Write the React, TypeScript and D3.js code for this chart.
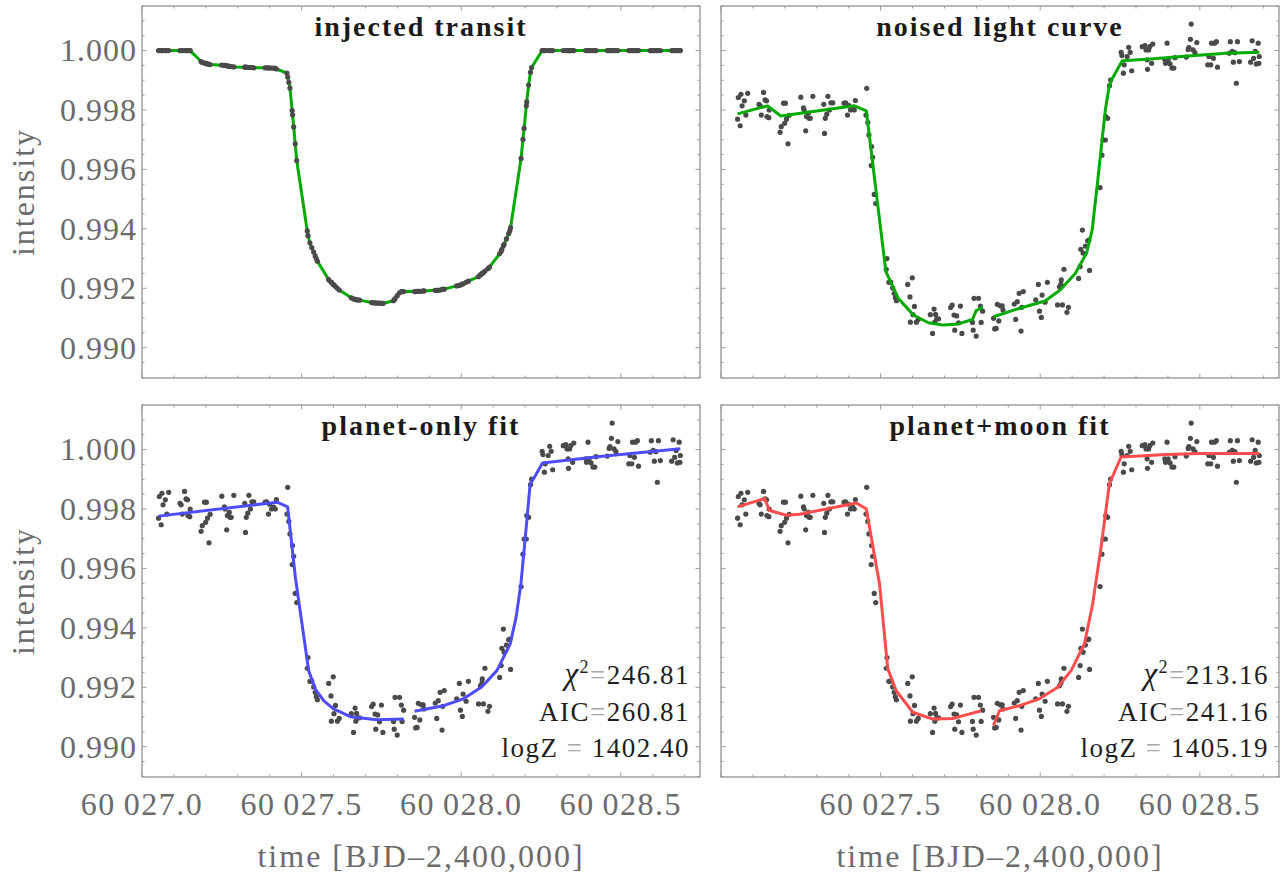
import * as d3 from "d3";

// observation times (BJD - 2,400,000) shared by all four panels
const time = [
  60027.0519, 60027.0542, 60027.0601, 60027.0625, 60027.066, 60027.0731, 60027.0778, 60027.0837,
  60027.1191, 60027.1226, 60027.1262, 60027.1333, 60027.138, 60027.1427, 60027.1439, 60027.1498, 60027.1509,
  60027.1851, 60027.1887, 60027.1958, 60027.1993, 60027.2017, 60027.2052, 60027.2099, 60027.2134,
  60027.25, 60027.2583, 60027.2606, 60027.2653, 60027.2677, 60027.2736, 60027.2759, 60027.2795, 60027.2877,
  60027.3219, 60027.3243, 60027.3267, 60027.3314, 60027.3349, 60027.3396, 60027.3443, 60027.3502,
  60027.3856, 60027.3903, 60027.3962, 60027.3998, 60027.4057, 60027.4127, 60027.4175, 60027.421,
  60027.454, 60027.4564, 60027.4599, 60027.4634, 60027.4705, 60027.4717, 60027.4752, 60027.48, 60027.4847,
  60027.5177, 60027.52, 60027.5259, 60027.5318, 60027.5377, 60027.5425, 60027.546, 60027.5495,
  60027.5849, 60027.592, 60027.5932, 60027.5991, 60027.6014, 60027.6061, 60027.612, 60027.6179,
  60027.6557, 60027.6627, 60027.6675, 60027.6698, 60027.6722, 60027.6757, 60027.6816,
  60027.7193, 60027.7241, 60027.73, 60027.7323, 60027.7382, 60027.7441, 60027.75, 60027.7547,
  60027.7877, 60027.7901, 60027.7925, 60027.7995, 60027.8066, 60027.8125, 60027.8149, 60027.8196,
  60027.8538, 60027.8573, 60027.862, 60027.8656, 60027.8703, 60027.875, 60027.8809, 60027.8833,
  60027.9186, 60027.9233, 60027.9281, 60027.934, 60027.9399, 60027.9422, 60027.9469,
  60027.9858, 60027.9941, 60027.9976, 60028.0035, 60028.0059, 60028.0153, 60028.0224,
  60028.0542, 60028.0601, 60028.0649, 60028.066, 60028.0696, 60028.0743, 60028.0837, 60028.0884,
  60028.1203, 60028.125, 60028.1274, 60028.1321, 60028.1344, 60028.1415, 60028.1486, 60028.1521, 60028.1545,
  60028.1875, 60028.1934, 60028.1969, 60028.204, 60028.2052, 60028.2111, 60028.217, 60028.2205,
  60028.2535, 60028.2559, 60028.2606, 60028.263, 60028.2724, 60028.2771, 60028.2818, 60028.2866,
  60028.3196, 60028.3278, 60028.3314, 60028.3349, 60028.3361, 60028.3396, 60028.3432, 60028.3491, 60028.3526,
  60028.3903, 60028.3927, 60028.3974, 60028.4009, 60028.4068, 60028.4127, 60028.4186, 60028.4222,
  60028.4575, 60028.4634, 60028.4658, 60028.4705, 60028.4729, 60028.4788, 60028.4847, 60028.4906,
  60028.5248, 60028.5283, 60028.5342, 60028.5366, 60028.5425, 60028.546, 60028.5519, 60028.5554,
  60028.592, 60028.5955, 60028.6014, 60028.605, 60028.6097, 60028.6144, 60028.6179, 60028.6238,
  60028.6592, 60028.6639, 60028.6686, 60028.6733, 60028.6769, 60028.6828, 60028.6851, 60028.6863,
];

// noise-free injected signal at each time
const injectedFlux = [
  1, 1, 1, 1, 1, 1, 1, 1,
  1, 1, 1, 1, 1, 1, 1, 1, 1,
  0.99963, 0.9996, 0.99958, 0.99957, 0.99956, 0.99955, 0.99954, 0.99953,
  0.99951, 0.9995, 0.9995, 0.99949, 0.99948, 0.99947, 0.99947, 0.99946, 0.99945,
  0.99944, 0.99944, 0.99944, 0.99943, 0.99943, 0.99943, 0.99943, 0.99942,
  0.99942, 0.99942, 0.99942, 0.99941, 0.99941, 0.99941, 0.9994, 0.99938,
  0.99924, 0.99911, 0.99893, 0.99874, 0.99798, 0.99784, 0.99743, 0.99686, 0.9963,
  0.99393, 0.99377, 0.99353, 0.99337, 0.99322, 0.99309, 0.993, 0.99291,
  0.99229, 0.99221, 0.9922, 0.99213, 0.99211, 0.99206, 0.992, 0.99194,
  0.99168, 0.99164, 0.99163, 0.99162, 0.99161, 0.99161, 0.9916,
  0.99152, 0.99151, 0.99151, 0.9915, 0.9915, 0.9915, 0.99149, 0.99149,
  0.99158, 0.99161, 0.99165, 0.99175, 0.99185, 0.99189, 0.99189, 0.99189,
  0.99189, 0.99189, 0.9919, 0.9919, 0.9919, 0.9919, 0.99191, 0.99191,
  0.99193, 0.99193, 0.99193, 0.99194, 0.99196, 0.99196, 0.99197,
  0.99208, 0.9921, 0.99211, 0.99214, 0.99215, 0.9922, 0.99224,
  0.99239, 0.99245, 0.99249, 0.9925, 0.99253, 0.99258, 0.99266, 0.99271,
  0.99316, 0.99325, 0.99331, 0.99343, 0.99348, 0.99366, 0.99384, 0.99393, 0.99404,
  0.99637, 0.99701, 0.99738, 0.99814, 0.99827, 0.99884, 0.99927, 0.99943,
  1, 1, 1, 1, 1, 1, 1, 1,
  1, 1, 1, 1, 1, 1, 1, 1, 1,
  1, 1, 1, 1, 1, 1, 1, 1,
  1, 1, 1, 1, 1, 1, 1, 1,
  1, 1, 1, 1, 1, 1, 1, 1,
  1, 1, 1, 1, 1, 1, 1, 1,
  1, 1, 1, 1, 1, 1, 1, 1,
];

// noisy light curve at each time
const noisedFlux = [
  0.99769, 0.99842, 0.99747, 0.99853, 0.99814, 0.99831, 0.99783, 0.99856,
  0.99819, 0.99814, 0.99783, 0.99859, 0.99834, 0.99831, 0.99778, 0.99774, 0.998,
  0.99725, 0.99744, 0.99823, 0.99755, 0.99823, 0.99769, 0.99686, 0.99782,
  0.99843, 0.99807, 0.998, 0.9973, 0.99778, 0.99789, 0.99772, 0.99772, 0.99846,
  0.99819, 0.99721, 0.99772, 0.99786, 0.99846, 0.998, 0.99824, 0.99824,
  0.99823, 0.99824, 0.99783, 0.99816, 0.998, 0.99806, 0.998, 0.99832,
  0.99783, 0.99873, 0.99758, 0.99716, 0.99613, 0.99677, 0.99641, 0.99516, 0.99485,
  0.99264, 0.993, 0.9922, 0.99221, 0.99201, 0.99183, 0.99168, 0.99158,
  0.99213, 0.99171, 0.99086, 0.99235, 0.99111, 0.99139, 0.99086, 0.99095,
  0.99111, 0.99048, 0.9913, 0.99086, 0.99112, 0.99097, 0.99097,
  0.99135, 0.99143, 0.9911, 0.99059, 0.99107, 0.99084, 0.9914, 0.99048,
  0.99085, 0.99059, 0.99166, 0.99039, 0.99166, 0.9914, 0.99085, 0.99123,
  0.99099, 0.99063, 0.99065, 0.99146, 0.9909, 0.99141, 0.99141, 0.99127,
  0.99147, 0.99095, 0.99155, 0.99183, 0.99056, 0.99136, 0.99189,
  0.99161, 0.99213, 0.99123, 0.99102, 0.99177, 0.99153, 0.9922,
  0.99144, 0.99205, 0.99214, 0.99228, 0.99144, 0.99264, 0.99119, 0.99136,
  0.99233, 0.99273, 0.99331, 0.99396, 0.99318, 0.99342, 0.9936, 0.99362, 0.9926,
  0.99539, 0.99648, 0.99699, 0.99699, 0.99778, 0.99772, 0.99882, 0.99901,
  0.99994, 0.99983, 0.99924, 0.99952, 0.9998, 1.00011, 0.99994, 0.99932,
  1.00013, 1.00017, 1.00002, 0.99969, 0.99937, 1.00002, 1.00013, 0.99957, 1.00022,
  0.99969, 0.99957, 1.00025, 0.99969, 0.99955, 0.99941, 0.99941, 0.99976,
  0.99978, 1.00004, 1.0001, 1.00038, 1.00089, 1.00002, 0.99993, 1.00027,
  0.99952, 0.9998, 0.99952, 1.00025, 0.99974, 1.00025, 1.0003, 0.99944,
  0.99991, 1.0003, 0.99997, 0.99961, 0.99993, 0.9989, 1.0003, 0.99963,
  0.99961, 1.00033, 0.99974, 0.99997, 0.99955, 1.00025, 0.99957, 0.9998,
];

// injected model with trend (noised light curve panel), two segments
const trendTimeA = [60027.0519, 60027.1462, 60027.1875, 60027.4175, 60027.4552, 60027.5165, 60027.5554, 60027.6026, 60027.6498, 60027.6969, 60027.7441, 60027.7877, 60027.7995, 60027.8196];
const trendFluxA = [0.99787, 0.99814, 0.9978, 0.99814, 0.99797, 0.99256, 0.99166, 0.9911, 0.99084, 0.99076, 0.9908, 0.99095, 0.99125, 0.99136];
const trendTimeB = [60027.8538, 60027.9328, 60028.0153, 60028.0625, 60028.1097, 60028.145, 60028.1627, 60028.1804, 60028.204, 60028.2158, 60028.2241, 60028.2571, 60028.3455, 60028.4634, 60028.5814, 60028.6863];
const trendFluxB = [0.99104, 0.99132, 0.99157, 0.99194, 0.9925, 0.99318, 0.99396, 0.99565, 0.998, 0.99879, 0.99903, 0.99966, 0.99972, 0.99982, 0.99991, 0.99994];

// planet-only fit
const planetTimeA = [60027.0519, 60027.423, 60027.4563, 60027.4803, 60027.5012, 60027.522, 60027.543, 60027.569, 60027.6, 60027.6525, 60027.736, 60027.8196];
const planetFluxA = [0.99776, 0.99823, 0.99807, 0.99571, 0.99414, 0.99256, 0.99194, 0.99155, 0.99127, 0.99101, 0.99091, 0.99093];
const planetTimeB = [60027.8538, 60027.9446, 60028.0072, 60028.0648, 60028.1117, 60028.1534, 60028.172, 60028.187, 60028.2056, 60028.216, 60028.2266, 60028.2546, 60028.435, 60028.6863];
const planetFluxB = [0.99119, 0.99138, 0.99161, 0.99202, 0.99256, 0.99346, 0.99436, 0.99548, 0.99762, 0.99885, 0.99902, 0.99955, 0.99977, 1.00003];

// planet+moon fit
const moonTimeA = [60027.0519, 60027.1365, 60027.1522, 60027.2044, 60027.2461, 60027.4236, 60027.4549, 60027.4966, 60027.5225, 60027.5488, 60027.6008, 60027.6634, 60027.726, 60027.768, 60027.815];
const moonFluxA = [0.99807, 0.99835, 0.99795, 0.99779, 0.99782, 0.9982, 0.99801, 0.99548, 0.99262, 0.99189, 0.99116, 0.99093, 0.99095, 0.99107, 0.99121];
const moonTimeB = [60027.8538, 60027.8723, 60027.9349, 60027.9975, 60028.0548, 60028.0967, 60028.1384, 60028.1644, 60028.1907, 60028.2166, 60028.2533, 60028.3942, 60028.4984, 60028.6863];
const moonFluxB = [0.99071, 0.99121, 0.99138, 0.99161, 0.992, 0.99256, 0.99346, 0.99481, 0.99672, 0.99885, 0.99975, 0.99983, 0.99987, 0.99987];

const yTickValues = [0.99, 0.992, 0.994, 0.996, 0.998, 1.0];
const xTickValues = [60027.0, 60027.5, 60028.0, 60028.5];
const titles = ["injected transit", "noised light curve", "planet-only fit", "planet+moon fit"];
const chi2 = ["246.81", "213.16"];
const aic = ["260.81", "241.16"];
const logZ = ["1402.40", "1405.19"];

const T_DOMAIN: [number, number] = [60027.0, 60028.748];
const F_DOMAIN: [number, number] = [0.98898, 1.0015];
const PW = 558;
const PH = 372;
const COLS = [142, 721];
const ROWS = [6, 405];
const SERIF = "'Liberation Serif', 'Times New Roman', serif";
const AXIS_GRAY = "#9a9a9a";
const LABEL_GRAY = "#6b6b6b";
const DOT = "#4a4a4a";

type Seg = { t: number[]; f: number[] };

function Panel(props: {
  col: number;
  row: number;
  title: string;
  color: string;
  segs: Seg[];
  dotFlux: number[];
  dotsOnTop: boolean;
  stats?: number;
}) {
  const { col, row, title, color, segs, dotFlux, dotsOnTop, stats } = props;
  const left = COLS[col];
  const top = ROWS[row];
  const x = d3.scaleLinear().domain(T_DOMAIN).range([left, left + PW]);
  const y = d3.scaleLinear().domain(F_DOMAIN).range([top + PH, top]);

  const yMinor = d3.range(0, 26).map((i) => 0.989 + i * 0.0005).filter((v) => v <= F_DOMAIN[1] + 1e-9 && v >= F_DOMAIN[0]);
  const xMinor = d3.range(0, 18).map((i) => 60027 + i * 0.1);

  const lines = segs.map((s, i) => {
    const path = d3
      .line<number>()
      .x((_, j) => x(s.t[j]))
      .y((d) => y(d))(s.f);
    return <path key={"l" + i} d={path || ""} fill="none" stroke={color} strokeWidth={3} strokeLinejoin="round" />;
  });
  const dots = time.map((t, i) => <circle key={"d" + i} cx={x(t)} cy={y(dotFlux[i])} r={2.6} fill={DOT} />);

  const tickMarks: JSX.Element[] = [];
  yMinor.forEach((v, i) => {
    const major = i % 4 === 2;
    const len = major ? 4.5 : 2.5;
    const yy = y(v);
    tickMarks.push(<line key={"yl" + i} x1={left} x2={left + len} y1={yy} y2={yy} />);
    tickMarks.push(<line key={"yr" + i} x1={left + PW} x2={left + PW - len} y1={yy} y2={yy} />);
  });
  xMinor.forEach((v, i) => {
    const major = i % 5 === 0;
    const len = major ? 4.5 : 2.5;
    const xx = x(v);
    tickMarks.push(<line key={"xb" + i} x1={xx} x2={xx} y1={top + PH} y2={top + PH - len} />);
    tickMarks.push(<line key={"xt" + i} x1={xx} x2={xx} y1={top} y2={top + len} />);
  });

  const statX = left + PW - 10;
  return (
    <g>
      <rect x={left} y={top} width={PW} height={PH} fill="white" stroke={AXIS_GRAY} strokeWidth={1.4} />
      <g stroke={AXIS_GRAY} strokeWidth={1}>{tickMarks}</g>
      {dotsOnTop ? lines : dots}
      {dotsOnTop ? dots : lines}
      <text x={left + PW / 2} y={top + 30} textAnchor="middle" fontFamily={SERIF} fontWeight="bold" fontSize={28} letterSpacing={2} fill="#1a1a1a">
        {title}
      </text>
      {col === 0 &&
        yTickValues.map((v) => (
          <text key={"yt" + v} x={137} y={y(v)} dy="0.34em" textAnchor="end" fontFamily={SERIF} fontSize={32} letterSpacing={1} fill={LABEL_GRAY}>
            {d3.format(".3f")(v)}
          </text>
        ))}
      {col === 0 && (
        <text transform={`translate(34,${top + PH / 2}) rotate(-90)`} textAnchor="middle" fontFamily={SERIF} fontSize={32} letterSpacing={2} fill={LABEL_GRAY}>
          intensity
        </text>
      )}
      {row === 1 &&
        xTickValues
          .filter((v) => col === 0 || v > 60027.2)
          .map((v) => {
            const s = v.toFixed(1);
            return (
              <text key={"xl" + v} x={x(v)} y={815} textAnchor="middle" fontFamily={SERIF} fontSize={32} letterSpacing={1.5} fill={LABEL_GRAY}>
                {s.slice(0, 2) + "\u2009" + s.slice(2)}
              </text>
            );
          })}
      {row === 1 && (
        <text x={left + PW / 2} y={867} textAnchor="middle" fontFamily={SERIF} fontSize={32} letterSpacing={2} fill={LABEL_GRAY}>
          time [BJD–2,400,000]
        </text>
      )}
      {stats !== undefined && (
        <g fontFamily={SERIF} fontSize={27} fill="#1e1e1e" textAnchor="end" letterSpacing={1.5}>
          <text x={statX} y={top + 279}>
            <tspan fontStyle="italic" fontSize={31}>χ</tspan>
            <tspan fontSize={18} dy={-11}>2</tspan>
            <tspan dy={11} fill="#a8a8a8">=</tspan>
            {chi2[stats]}
          </text>
          <text x={statX} y={top + 316}>
            AIC<tspan fill="#a8a8a8">=</tspan>
            {aic[stats]}
          </text>
          <text x={statX} y={top + 352}>
            logZ <tspan fill="#a8a8a8">=</tspan> {logZ[stats]}
          </text>
        </g>
      )}
    </g>
  );
}

export default function App() {
  return (
    <svg width={1288} height={879} style={{ position: "absolute", left: 0, top: 0, background: "white" }}>
      <rect width={1288} height={879} fill="white" />
      <Panel col={0} row={0} title={titles[0]} color="#00aa00" segs={[{ t: time, f: injectedFlux }]} dotFlux={injectedFlux} dotsOnTop={true} />
      <Panel
        col={1}
        row={0}
        title={titles[1]}
        color="#00aa00"
        segs={[
          { t: trendTimeA, f: trendFluxA },
          { t: trendTimeB, f: trendFluxB },
        ]}
        dotFlux={noisedFlux}
        dotsOnTop={false}
      />
      <Panel
        col={0}
        row={1}
        title={titles[2]}
        color="#4d4dff"
        segs={[
          { t: planetTimeA, f: planetFluxA },
          { t: planetTimeB, f: planetFluxB },
        ]}
        dotFlux={noisedFlux}
        dotsOnTop={false}
        stats={0}
      />
      <Panel
        col={1}
        row={1}
        title={titles[3]}
        color="#ff4d4d"
        segs={[
          { t: moonTimeA, f: moonFluxA },
          { t: moonTimeB, f: moonFluxB },
        ]}
        dotFlux={noisedFlux}
        dotsOnTop={false}
        stats={1}
      />
    </svg>
  );
}
